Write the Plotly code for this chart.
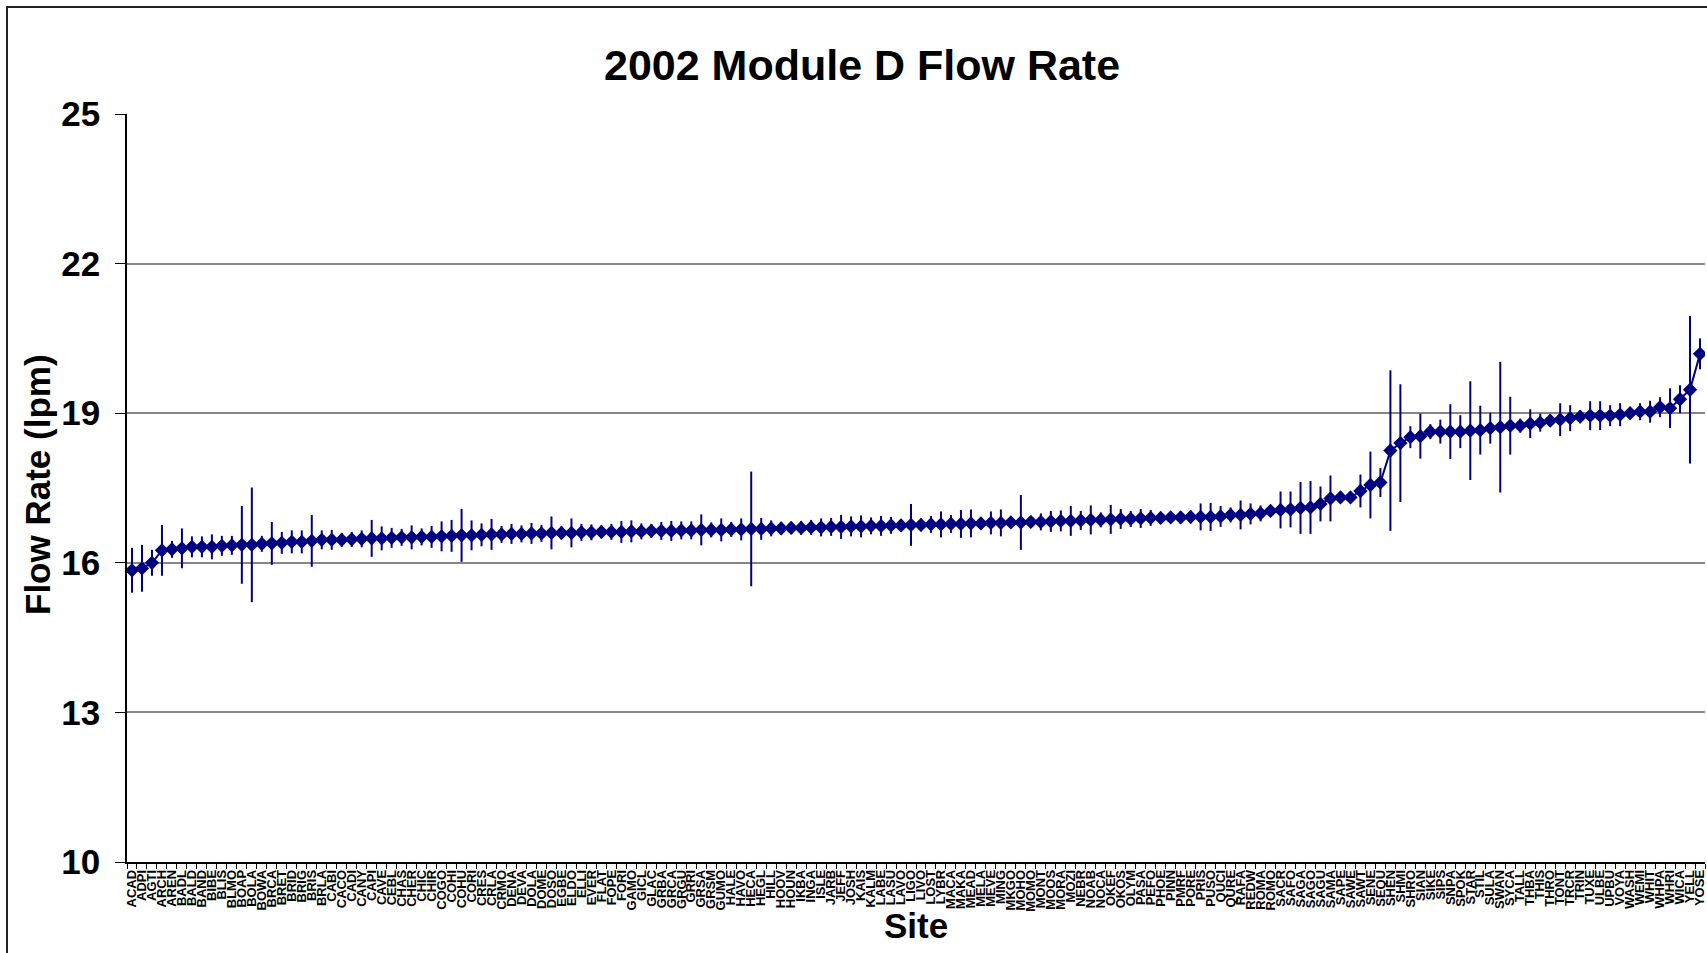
import plotly.graph_objects as go

sites = [
    "ACAD", "ADPI", "AGTI", "ARCH", "AREN", "BADL", "BALD", "BAND", "BIBE", "BLIS",
    "BLMO", "BOAP", "BOLA", "BOWA", "BRCA", "BRET", "BRID", "BRIG", "BRIS", "BRLA",
    "CABI", "CACO", "CADI", "CANY", "CAPI", "CAVE", "CEBL", "CHAS", "CHER", "CHIC",
    "CHIR", "COGO", "COHI", "COHU", "CORI", "CRES", "CRLA", "CRMO", "DENA", "DEVA",
    "DOLA", "DOME", "DOSO", "EGBE", "ELDO", "ELLI", "EVER", "FLAT", "FOPE", "FORI",
    "GAMO", "GICL", "GLAC", "GRBA", "GRCA", "GRGU", "GRRI", "GRSA", "GRSM", "GUMO",
    "HALE", "HAVO", "HECA", "HEGL", "HILL", "HOOV", "HOUN", "IKBA", "INGA", "ISLE",
    "JARB", "JEFF", "JOSH", "KAIS", "KALM", "LABE", "LASU", "LAVO", "LIGO", "LIVO",
    "LOST", "LYBR", "MACA", "MAKA", "MEAD", "MELA", "MEVE", "MING", "MKGO", "MOHO",
    "MOMO", "MONT", "MOOS", "MORA", "MOZI", "NEBR", "NOAB", "NOCA", "OKEF", "OKOS",
    "OLYM", "PASA", "PEFO", "PHOE", "PINN", "PMRF", "PORE", "PRIS", "PUSO", "QUCI",
    "QURE", "RAFA", "REDW", "ROMA", "ROMO", "SACR", "SAFO", "SAGA", "SAGO", "SAGU",
    "SAMA", "SAPE", "SAWE", "SAWT", "SENE", "SEQU", "SHEN", "SHMI", "SHRO", "SIAN",
    "SIKE", "SIPS", "SNPA", "SPOK", "STAR", "STIL", "SULA", "SWAN", "SYCA", "TALL",
    "THBA", "THIS", "THRO", "TONT", "TRCR", "TRIN", "TUXE", "ULBE", "UPBU", "VOYA",
    "WASH", "WEMI", "WHIT", "WHPA", "WHRI", "WICA", "YELL", "YOSE",
]

flow_rate = [
    15.85, 15.89, 16.00, 16.25, 16.27, 16.29, 16.32, 16.32, 16.32, 16.34,
    16.35, 16.36, 16.36, 16.38, 16.39, 16.40, 16.42, 16.42, 16.44, 16.46,
    16.46, 16.46, 16.47, 16.48, 16.49, 16.49, 16.50,
    16.51, 16.51, 16.52, 16.52, 16.53, 16.54, 16.55, 16.55, 16.56, 16.57,
    16.57, 16.58, 16.58, 16.59, 16.59, 16.60, 16.60, 16.60, 16.61, 16.61,
    16.62, 16.62, 16.62, 16.63, 16.63, 16.64,
    16.64, 16.64, 16.65, 16.65, 16.66, 16.66, 16.66, 16.67, 16.67, 16.68,
    16.68, 16.69, 16.69, 16.70, 16.70, 16.71, 16.71, 16.72, 16.72, 16.73,
    16.73, 16.74, 16.74, 16.75, 16.75, 16.76, 16.76,
    16.77, 16.77, 16.78, 16.78, 16.79, 16.79, 16.80, 16.80, 16.81, 16.81,
    16.82, 16.82, 16.83, 16.84, 16.84, 16.85, 16.86, 16.86, 16.87, 16.88,
    16.88, 16.89, 16.90, 16.90, 16.91, 16.91,
    16.92, 16.92, 16.92, 16.93, 16.96, 16.96, 16.98, 16.99, 17.04, 17.06,
    17.07, 17.10, 17.11, 17.18, 17.29, 17.31, 17.31, 17.44, 17.56, 17.61,
    18.25, 18.40,
    18.52, 18.54, 18.63, 18.63, 18.63, 18.63, 18.65, 18.66, 18.70, 18.72,
    18.75, 18.75, 18.79, 18.81, 18.85, 18.87, 18.90, 18.93, 18.95, 18.95,
    18.95, 18.97, 19.00, 19.03, 19.03, 19.12, 19.10, 19.28, 19.47, 20.19,
]

flow_err = [
    0.45, 0.47, 0.26, 0.51, 0.17, 0.40, 0.21, 0.21, 0.25, 0.20,
    0.19, 0.78, 1.15, 0.16, 0.43, 0.22, 0.23, 0.23, 0.52, 0.19,
    0.20, 0.14, 0.15, 0.17, 0.37, 0.24, 0.20,
    0.17, 0.24, 0.17, 0.22, 0.30, 0.32, 0.53, 0.30, 0.23, 0.31,
    0.17, 0.20, 0.17, 0.21, 0.17, 0.33, 0.13, 0.29, 0.17, 0.16,
    0.13, 0.16, 0.22, 0.22, 0.16, 0.14,
    0.18, 0.20, 0.18, 0.18, 0.31, 0.15, 0.23, 0.15, 0.22, 1.15,
    0.22, 0.16, 0.13, 0.12, 0.14, 0.15, 0.18, 0.18, 0.24, 0.20,
    0.22, 0.17, 0.20, 0.17, 0.13, 0.42, 0.13,
    0.17, 0.26, 0.18, 0.28, 0.28, 0.12, 0.23, 0.27, 0.10, 0.55,
    0.12, 0.17, 0.21, 0.21, 0.30, 0.19, 0.29, 0.15, 0.29, 0.20,
    0.16, 0.19, 0.16, 0.12, 0.10, 0.12,
    0.13, 0.27, 0.28, 0.21, 0.15, 0.29, 0.21, 0.16, 0.11, 0.37,
    0.36, 0.52, 0.53, 0.35, 0.46, 0.10, 0.10, 0.33, 0.67, 0.29,
    1.61, 1.18,
    0.22, 0.45, 0.15, 0.24, 0.55, 0.33, 0.99, 0.49, 0.31, 1.31,
    0.58, 0.14, 0.29, 0.18, 0.12, 0.33, 0.26, 0.13, 0.29, 0.29,
    0.21, 0.23, 0.12, 0.17, 0.22, 0.20, 0.40, 0.28, 1.48, 0.31,
]

y_ticks = [10, 13, 16, 19, 22, 25]

assert len(sites) == len(set(sites)) == len(flow_rate) == len(flow_err)

NAVY = "#000080"
FONT = "Liberation Sans, Arial, sans-serif"

fig = go.Figure()
fig.add_trace(go.Scatter(
    x=sites, y=flow_rate, mode="lines+markers",
    line=dict(color=NAVY, width=2),
    marker=dict(symbol="diamond", size=11, color=NAVY),
    error_y=dict(type="data", array=flow_err, visible=True,
                 color=NAVY, thickness=2, width=0),
    showlegend=False,
))

W, H = 1707, 953
L, R, T, B = 127, 2, 114, 91
pw, ph = W - L - R, H - T - B

def px(x):
    return (x - L) / pw

def py(y):
    return (H - B - y) / ph

fig.update_layout(
    width=W, height=H,
    margin=dict(l=L, r=R, t=T, b=B, autoexpand=False),
    paper_bgcolor="white", plot_bgcolor="white",
    font=dict(family=FONT, color="black"),
    xaxis=dict(
        type="category", categoryorder="array", categoryarray=sites,
        tickmode="array", tickvals=sites, ticktext=sites,
        tickangle=-90, tickson="boundaries", ticks="outside", ticklen=5,
        tickcolor="black", tickwidth=1, ticklabelstandoff=1,
        tickfont=dict(family=FONT, size=13, weight="bold", color="black"),
        showline=True, linecolor="black", linewidth=1.5,
        showgrid=False, zeroline=False, automargin=False,
        range=[-0.5, len(sites) - 0.5],
    ),
    yaxis=dict(
        range=[10, 25], tickmode="array", tickvals=y_ticks,
        ticks="outside", ticklen=10, tickcolor="black", tickwidth=1,
        ticklabelstandoff=8,
        tickfont=dict(family=FONT, size=35, weight="bold", color="black"),
        showline=True, linecolor="black", linewidth=1.5,
        showgrid=True, gridcolor="#868686", gridwidth=1.5,
        zeroline=False, automargin=False,
    ),
    annotations=[
        dict(text="2002 Module D Flow Rate", xref="paper", yref="paper",
             x=px(862), y=py(65), showarrow=False, xanchor="center", yanchor="middle",
             font=dict(family=FONT, size=43, weight="bold", color="black")),
        dict(text="Flow Rate (lpm)", xref="paper", yref="paper",
             x=px(37), y=py(485), showarrow=False, textangle=-90,
             xanchor="center", yanchor="middle",
             font=dict(family=FONT, size=35, weight="bold", color="black")),
        dict(text="Site", xref="paper", yref="paper",
             x=px(916), y=py(925), showarrow=False, xanchor="center", yanchor="middle",
             font=dict(family=FONT, size=35, weight="bold", color="black")),
    ],
    shapes=[
        dict(type="rect", xref="paper", yref="paper",
             x0=px(7), x1=px(1725), y0=py(7), y1=py(975),
             line=dict(color="#222222", width=2), layer="above"),
    ],
)

fig.write_html(
    "out.html",
    config={"displayModeBar": False},
    post_script="document.body.style.margin='0px';document.body.style.padding='0px';document.body.style.overflow='hidden';",
)
